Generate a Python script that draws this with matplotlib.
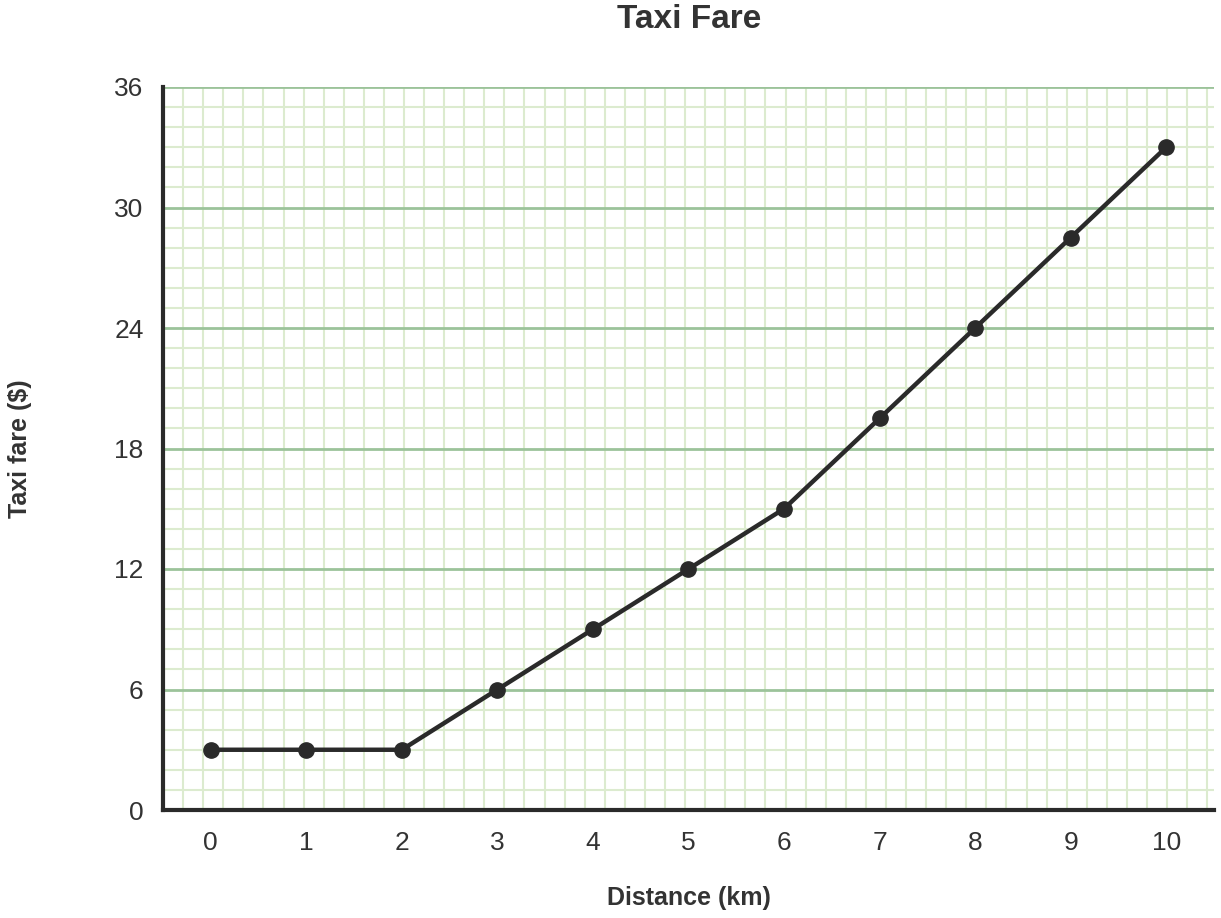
import numpy as np
import matplotlib.pyplot as plt

distance_km = [0, 1, 2, 3, 4, 5, 6, 7, 8, 9, 10]
fare_dollars = [3, 3, 3, 6, 9, 12, 15, 19.5, 24, 28.5, 33]
y_ticks = [0, 6, 12, 18, 24, 30, 36]

plt.rcParams['font.family'] = ['Liberation Sans', 'DejaVu Sans']

W, H = 1221, 918
fig = plt.figure(figsize=(W / 100, H / 100), dpi=100)
ax = fig.add_axes([163 / W, 1 - 810 / H, (1214 - 163) / W, (810 - 87) / H])

ax.set_xlim(-0.5, 10.5)
ax.set_ylim(0, 36)

# graph paper: one minor cell is 1 fare unit tall and the same size in pixels across
px_per_y = (810 - 87) / 36
px_per_x = (1214 - 163) / 11
cell_x = px_per_y / px_per_x
for x in np.arange(-0.5 + cell_x, 10.5, cell_x):
    ax.axvline(x, color='#dcebcf', linewidth=1.5, zorder=0)
for y in range(1, 36):
    if y % 6:
        ax.axhline(y, color='#dcebcf', linewidth=1.5, zorder=0)
for y in y_ticks[1:]:
    ax.axhline(y, color='#9cc39a', linewidth=2.0, zorder=1)

ax.plot(distance_km, fare_dollars, color='#2a2a2a', linewidth=3.2,
        marker='o', markersize=11, zorder=3, clip_on=False)

ax.set_xticks(distance_km)
ax.set_yticks(y_ticks)
ax.tick_params(length=0, labelsize=19, colors='#333333')
ax.tick_params(axis='x', pad=15)
ax.tick_params(axis='y', pad=14)

for side in ['top', 'right']:
    ax.spines[side].set_visible(False)
for side in ['left', 'bottom']:
    ax.spines[side].set_linewidth(3)
    ax.spines[side].set_color('#2a2a2a')

fig.text(689 / W, 1 - 19 / H, 'Taxi Fare', fontsize=24, fontweight='bold',
         color='#333333', ha='center', va='center')
fig.text(689 / W, 1 - 898 / H, 'Distance (km)', fontsize=18, fontweight='bold',
         color='#333333', ha='center', va='center')
fig.text(20 / W, 1 - 449 / H, 'Taxi fare ($)', fontsize=18, fontweight='bold',
         color='#333333', ha='center', va='center', rotation=90)

fig.savefig('out.png', dpi=100)
